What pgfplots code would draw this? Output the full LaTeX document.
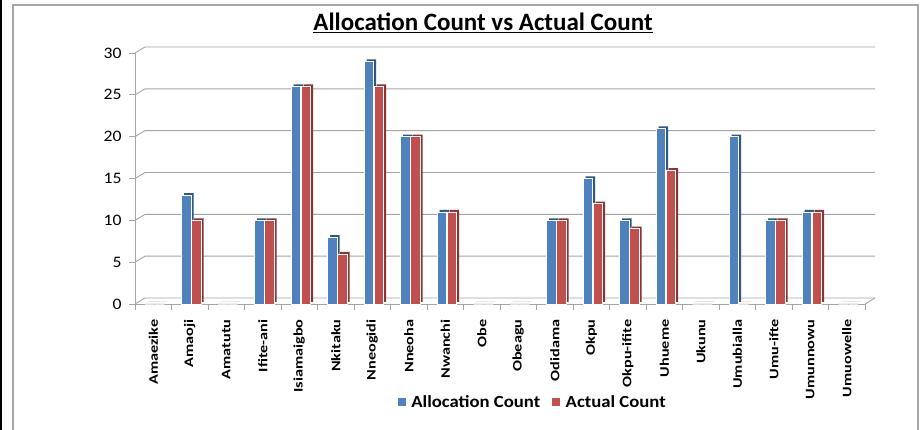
\documentclass[border=0pt]{standalone}
\usepackage{pgfplots}
\usepackage{pgfplotstable}
\pgfplotsset{compat=1.18}
\usepackage{fontspec}
\setmainfont{Carlito}
\newfontfamily\xlabfont[FakeStretch=1.25]{Carlito}
\newfontfamily\ylabfont[FakeStretch=1.1]{Carlito}
\newfontfamily\legfont[FakeStretch=1.1]{Carlito}
\definecolor{bluef}{HTML}{4F81BD}
\definecolor{blued}{HTML}{2E5687}
\definecolor{redf}{HTML}{C0504D}
\definecolor{redd}{HTML}{8A3533}
\definecolor{gridc}{HTML}{A6A6A6}
\pgfplotstableread{
x alloc actual
0 0 0
1 13 10
2 0 0
3 10 10
4 26 26
5 8 6
6 29 26
7 20 20
8 11 11
9 0 0
10 0 0
11 10 10
12 15 12
13 10 9
14 21 16
15 0 0
16 20 0
17 10 10
18 11 11
19 0 0
}\datatable
\begin{document}
\begin{tikzpicture}[x=1pt,y=1pt]
\useasboundingbox (-135,-126) rectangle (788,304);
\fill[white] (-135,-126) rectangle (788,304);
\fill[black] (-135,-126) rectangle (-132.5,304);
\draw[gridc, line width=1.2pt] (-122,-140) rectangle (783,299);
\node[font=\bfseries\fontsize{25}{30}\selectfont, anchor=base] at (348,273) {\underline{Allocation Count vs Actual Count}};
\begin{axis}[
  at={(0,0)}, anchor=south west,
  scale only axis, width=730pt, height=251pt,
  xmin=-0.5, xmax=19.5, ymin=0, ymax=30,
  ybar,
  clip=false,
  ytick={0,5,...,30},
  axis x line*=bottom, axis y line*=left,
  axis line style={-, gridc, line width=0.9pt},
  tick align=outside,
  xtick={0,...,19},
  xticklabels={Amaezike, Amaoji, Amatutu, Ifite-ani, Isiamaigbo, Nkitaku, Nneogidi, Nneoha, Nwanchi, Obe, Obeagu, Odidama, Okpu, Okpu-ifite, Uhueme, Ukunu, Umubialla, Umu-ifte, Umunnowu, Umuowelle},
  xticklabel style={rotate=90, anchor=east, xshift=-6pt, font=\xlabfont\bfseries\fontsize{13}{14}\selectfont},
  major x tick style={draw=none},
  minor xtick={-0.5,0.5,...,19.5},
  minor x tick style={gridc, line width=0.9pt},
  minor tick length=6pt,
  major tick length=6pt,
  y tick style={gridc, line width=0.9pt},
  yticklabel style={font=\ylabfont\fontsize{16}{18}\selectfont, xshift=-4pt},
  /pgf/number format/assume math mode=true,
  legend style={at={(0.545,-0.39)}, anchor=center, draw=none, fill=none,
    legend columns=2, font=\legfont\bfseries\fontsize{17}{19}\selectfont,
    /tikz/every even column/.append style={column sep=10pt}},
]
\pgfplotsinvokeforeach{0,5,...,30}{
  \draw[gridc, line width=0.9pt] (axis cs:-0.5,#1) -- ++(10pt,6pt) -- ([xshift=10pt,yshift=6pt]axis cs:19.5,#1);
}
\draw[gridc, line width=0.9pt] (axis cs:19.5,0) -- ++(10pt,6pt);
\addplot[forget plot, bar width=9.5pt, bar shift=-1pt, fill=blued, draw=none, yshift=2pt] table[x=x, y=alloc] {\datatable};
\addplot[forget plot, bar width=9.5pt, bar shift=-3.5pt, fill=bluef, draw=white, line width=0.5pt] table[x=x, y=alloc] {\datatable};
\addplot[forget plot, bar width=9.5pt, bar shift=9pt, fill=redd, draw=none, yshift=2pt] table[x=x, y=actual] {\datatable};
\addplot[forget plot, bar width=9.5pt, bar shift=6.5pt, fill=redf, draw=white, line width=0.5pt] table[x=x, y=actual] {\datatable};
\addlegendimage{legend image code/.code={\fill[bluef] (0pt,-3.5pt) rectangle (7pt,3.5pt); \path (11pt,0pt);}}
\addlegendentry{Allocation Count}
\addlegendimage{legend image code/.code={\fill[redf] (0pt,-3.5pt) rectangle (7pt,3.5pt); \path (11pt,0pt);}}
\addlegendentry{Actual Count}
\end{axis}
\end{tikzpicture}
\end{document}
